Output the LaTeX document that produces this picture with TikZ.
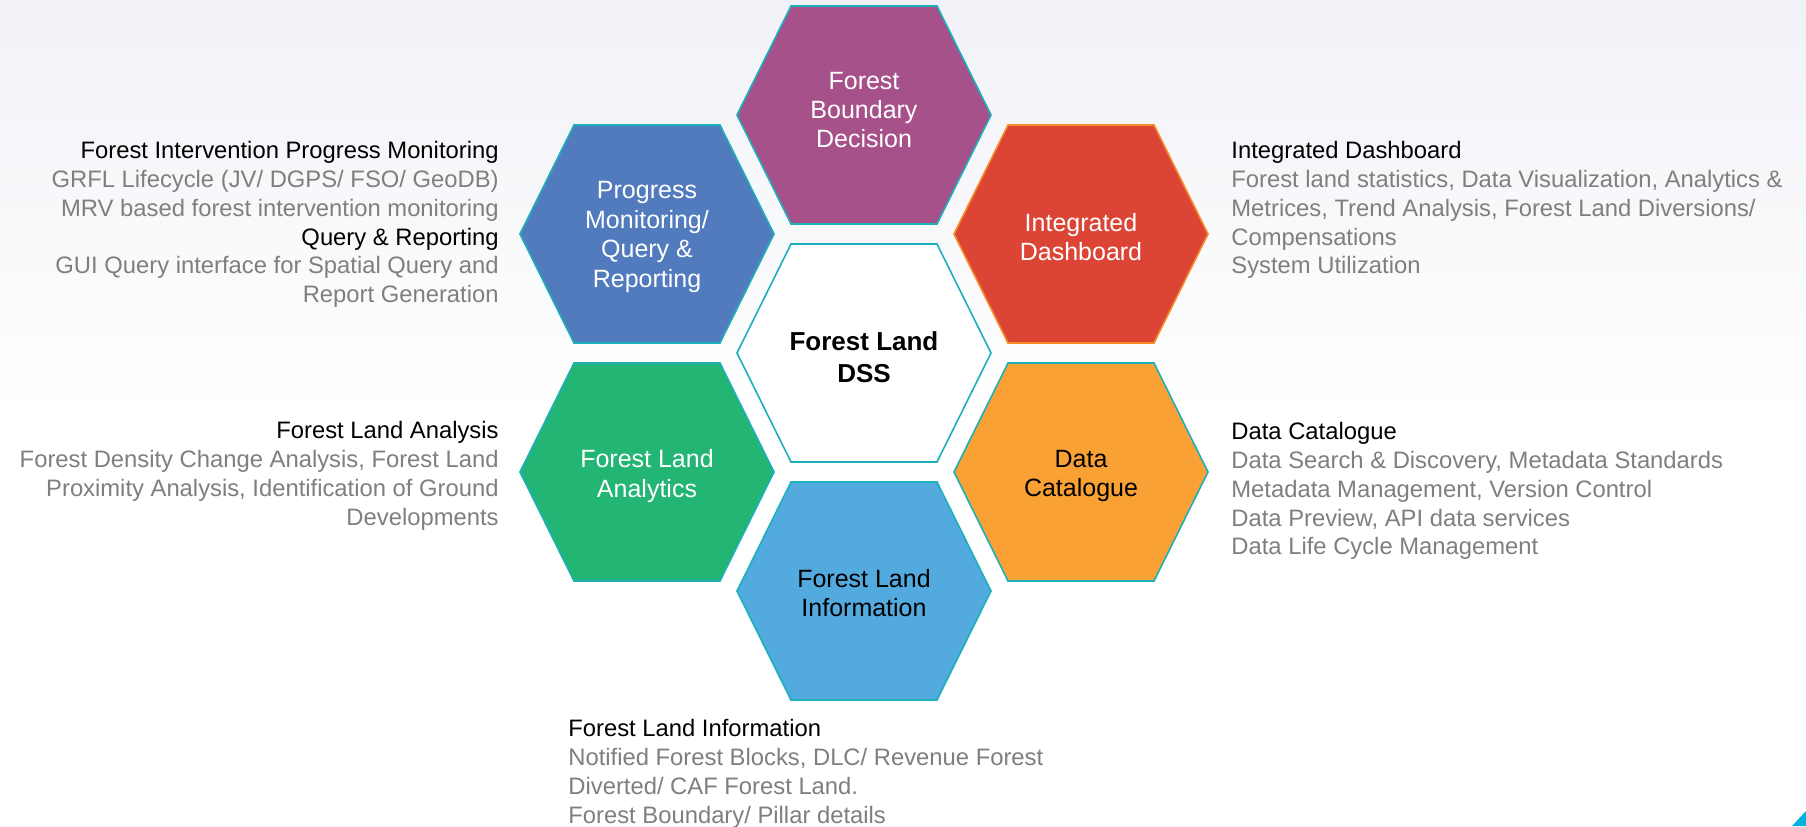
\documentclass[tikz,border=0pt]{standalone}
\usepackage{fontspec}
\setmainfont{Liberation Sans}
\usetikzlibrary{positioning}
\definecolor{bgtop}{RGB}{241,242,247}
\definecolor{hexline}{RGB}{27,176,186}
\definecolor{fbpurple}{RGB}{166,81,137}
\definecolor{pmblue}{RGB}{82,123,189}
\definecolor{idred}{RGB}{220,69,54}
\definecolor{idedge}{RGB}{245,140,40}
\definecolor{flgreen}{RGB}{35,181,116}
\definecolor{dcorange}{RGB}{249,161,53}
\definecolor{flblue}{RGB}{82,170,222}
\definecolor{txtgrey}{RGB}{127,127,127}
\definecolor{cornerblue}{RGB}{0,176,224}
\begin{document}
\begin{tikzpicture}[x=0.5pt,y=-0.5pt,
  hexcell/.style={draw=hexline,line width=0.8pt,line join=miter},
  hextext/.style={align=center,inner sep=0pt,font=\fontsize{12.5}{14.7}\selectfont},
  sidetext/.style={inner sep=0pt,text=txtgrey,font=\fontsize{11.9}{14.4}\selectfont}]
\useasboundingbox (0,0) rectangle (1806,826);
% background
\fill[white] (0,0) rectangle (1806,826);
\shade[top color=bgtop,bottom color=white] (0,0) rectangle (1806,420);
\fill[cornerblue] (1792,826) -- (1806,811) -- (1806,826) -- cycle;
% hexagons
\draw[hexcell,fill=fbpurple] (791,6) -- ++(146,0) -- ++(54,109) -- ++(-54,109) -- ++(-146,0) -- ++(-54,-109) -- cycle;
\draw[hexcell,fill=pmblue] (574,125) -- ++(146,0) -- ++(54,109) -- ++(-54,109) -- ++(-146,0) -- ++(-54,-109) -- cycle;
\draw[hexcell,draw=idedge,fill=idred] (1008,125) -- ++(146,0) -- ++(54,109) -- ++(-54,109) -- ++(-146,0) -- ++(-54,-109) -- cycle;
\draw[hexcell,fill=white] (791,244) -- ++(146,0) -- ++(54,109) -- ++(-54,109) -- ++(-146,0) -- ++(-54,-109) -- cycle;
\draw[hexcell,fill=flgreen] (574,363) -- ++(146,0) -- ++(54,109) -- ++(-54,109) -- ++(-146,0) -- ++(-54,-109) -- cycle;
\draw[hexcell,fill=dcorange] (1008,363) -- ++(146,0) -- ++(54,109) -- ++(-54,109) -- ++(-146,0) -- ++(-54,-109) -- cycle;
\draw[hexcell,fill=flblue] (791,482) -- ++(146,0) -- ++(54,109) -- ++(-54,109) -- ++(-146,0) -- ++(-54,-109) -- cycle;
% hexagon labels
\node[hextext,text=white] (fbd) at (864,110) {Forest\\Boundary\\Decision};
\node[hextext,text=white] (pmqr) at (647,237) {Progress\\Monitoring/\\Query \&\\Reporting};
\node[hextext,text=white] (idb) at (1081,237) {Integrated\\Dashboard};
\node[hextext,font=\fontsize{13}{16}\selectfont\bfseries] (dss) at (864,357) {Forest Land\\DSS};
\node[hextext,text=white] (fla) at (647,476) {Forest Land\\Analytics};
\node[hextext] (dcat) at (1081,476) {Data\\Catalogue};
\node[hextext] (fli) at (864,593) {Forest Land\\Information};
% side descriptions
\node[sidetext,align=right,anchor=north east] (fipmtxt) at (499,141) {
\textcolor{black}{Forest Intervention Progress Monitoring}\\
GRFL Lifecycle (JV/ DGPS/ FSO/ GeoDB)\\
MRV based forest intervention monitoring\\
\textcolor{black}{Query \& Reporting}\\
GUI Query interface for Spatial Query and\\
Report Generation
};
\node[sidetext,align=right,anchor=north east] (flatxt) at (499,421) {
\textcolor{black}{Forest Land Analysis}\\
Forest Density Change Analysis, Forest Land\\
Proximity Analysis, Identification of Ground\\
Developments
};
\node[sidetext,align=left,anchor=north west] (idbtxt) at (1231,141) {
\textcolor{black}{Integrated Dashboard}\\
Forest land statistics, Data Visualization, Analytics \&\\
Metrices, Trend Analysis, Forest Land Diversions/\\
Compensations\\
System Utilization
};
\node[sidetext,align=left,anchor=north west] (dcattxt) at (1231,422) {
\textcolor{black}{Data Catalogue}\\
Data Search \& Discovery, Metadata Standards\\
Metadata Management, Version Control\\
Data Preview, API data services\\
Data Life Cycle Management
};
\node[sidetext,align=left,anchor=north west] (flitxt) at (568,719) {
\textcolor{black}{Forest Land Information}\\
Notified Forest Blocks, DLC/ Revenue Forest\\
Diverted/ CAF Forest Land.\\
Forest Boundary/ Pillar details
};
\end{tikzpicture}
\end{document}
